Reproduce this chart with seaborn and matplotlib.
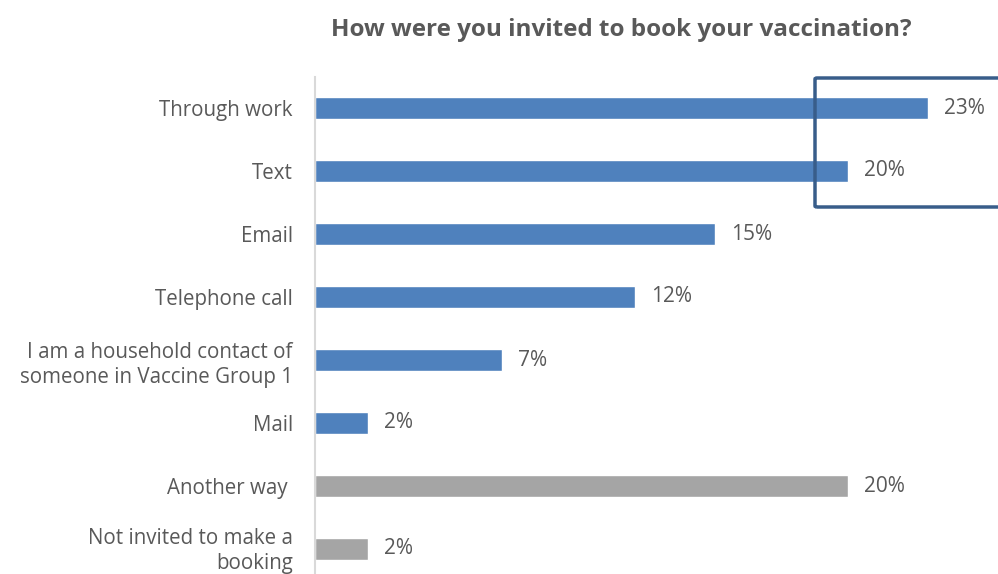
import matplotlib
matplotlib.use("Agg")
import matplotlib.pyplot as plt
import matplotlib.transforms as mtransforms
import seaborn as sns
import pandas as pd
from matplotlib.patches import FancyBboxPatch

categories = [
    "Through work",
    "Text",
    "Email",
    "Telephone call",
    "I am a household contact of\nsomeone in Vaccine Group 1",
    "Mail",
    "Another way ",
    "Not invited to make a\nbooking",
]
values = [23, 20, 15, 12, 7, 2, 20, 2]
groups = ["invite", "invite", "invite", "invite", "invite", "invite", "other", "other"]
group_colors = {"invite": "#4F81BD", "other": "#A5A5A5"}

df = pd.DataFrame({"method": categories, "pct": values, "group": groups})

sns.set_theme(style="white")
plt.rcParams["font.family"] = ["Open Sans", "DejaVu Sans"]

text_color = "#595959"
fig = plt.figure(figsize=(9.98, 5.74), dpi=100)
ax = fig.add_axes([315 / 998, -6.5 / 574, 683 / 998, 504 / 574])

sns.barplot(data=df, y="method", x="pct", hue="group", palette=group_colors,
            dodge=False, width=0.35, legend=False, ax=ax, saturation=1)

ax.set_xlim(0, 683 / 26.65)
ax.set_xlabel("")
ax.set_ylabel("")
ax.set_xticks([])
for side in ("top", "right", "bottom"):
    ax.spines[side].set_visible(False)
ax.spines["left"].set_color("#D9D9D9")
ax.spines["left"].set_linewidth(1.5)
ax.tick_params(axis="y", length=0, pad=16, labelsize=14.8, labelcolor=text_color)
for lbl in ax.get_yticklabels():
    lbl.set_linespacing(1.3)
# lift the bottom two-line label slightly so it stays inside the figure
last = ax.get_yticklabels()[-1]
last.set_transform(last.get_transform() +
                   mtransforms.ScaledTranslation(0, 3 / 100, fig.dpi_scale_trans))

for i, v in enumerate(values):
    ax.annotate(f"{v}%", xy=(v, i), xytext=(11.5, 0), textcoords="offset points",
                ha="left", va="center", fontsize=15, color=text_color)

fig.text(0.623, 0.948, "How were you invited to book your vaccination?",
         ha="center", va="center", fontsize=17.5, fontweight="bold", color=text_color)

# highlight box around the top two responses
box = FancyBboxPatch((815 / 998, 1 - 207 / 574), 200 / 998, 129 / 574,
                     boxstyle="round,pad=0,rounding_size=0.002",
                     transform=fig.transFigure, fill=False,
                     edgecolor="#385D8A", linewidth=2.5, clip_on=False)
fig.patches.append(box)

fig.savefig("out.png", dpi=100)
